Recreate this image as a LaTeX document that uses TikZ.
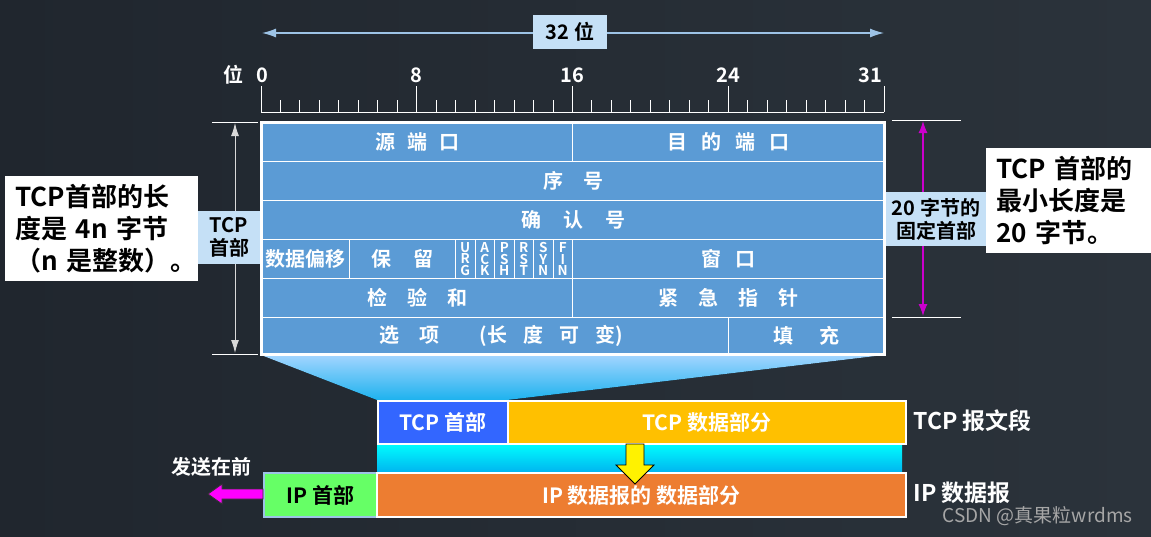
\documentclass[tikz,border=0pt]{standalone}
\usepackage{fontspec}
\setmainfont{Noto Sans CJK SC}[BoldFont={* Bold}]
\usetikzlibrary{arrows.meta}

\definecolor{bgleft}{HTML}{20262E}
\definecolor{bgright}{HTML}{2B333B}
\definecolor{cellblue}{HTML}{5B9BD5}
\definecolor{tagblue}{HTML}{C5E0F6}
\definecolor{rulerblue}{HTML}{9DC3E6}
\definecolor{dimgray}{HTML}{D9D9D9}
\definecolor{dimmag}{HTML}{CC00CC}
\definecolor{fantop}{HTML}{A3D5FF}
\definecolor{fanbot}{HTML}{1DB2EE}
\definecolor{bandtop}{HTML}{00FFFF}
\definecolor{bandbot}{HTML}{00B8F0}
\definecolor{hdrblue}{HTML}{3366FF}
\definecolor{datagold}{HTML}{FFC000}
\definecolor{iphdrgreen}{HTML}{66FF66}
\definecolor{ipdataorange}{HTML}{ED7D31}
\definecolor{sendmag}{HTML}{FF00FF}
\definecolor{markgray}{HTML}{A6A6A6}

\newcommand\sz[1]{\fontsize{#1}{#1}\selectfont\bfseries}
\newcommand\szl[2]{\fontsize{#1}{#2}\selectfont\bfseries}
\newcommand\cgap[1]{\hspace{#1em}}

\begin{document}
\begin{tikzpicture}[x=1pt,y=-1pt,
  cell/.style={draw=white,line width=1pt,fill=cellblue,text=white,inner sep=0pt,anchor=north west,font=\sz{20}},
  tag/.style={fill=tagblue,text=black,inner sep=0pt,align=center,font=\szl{20}{23}},
  note/.style={fill=white,text=black,inner ysep=0pt,align=left,anchor=north west,font=\szl{26}{32}},
  seg/.style={draw=white,line width=2pt,inner sep=0pt,anchor=north west,minimum height=43pt,font=\sz{21}},
  tick/.style={white,line width=1pt},
  num/.style={text=white,font=\sz{20}},
  side/.style={text=white,anchor=west,font=\sz{23}}]

% background
\fill[left color=bgleft,right color=bgright] (0,0) rectangle (1151,536);
\useasboundingbox (0,0) rectangle (1151,536);

% 32 bit width
\coordinate (wl) at (262,33);
\coordinate (wr) at (884,33);
\draw[rulerblue,line width=1.2pt,{Latex[length=14pt,width=9pt]}-{Latex[length=14pt,width=9pt]}] (wl) -- (wr);
\node[fill=tagblue,minimum width=74pt,minimum height=34pt,inner sep=0pt,font=\sz{20}] (w32) at (570,32) {32 位};

% ruler
\draw[tick] (261,112) -- (884,112);
\foreach \i in {0,...,32}
  \draw[tick] ({261+\i*19.47},100) -- ({261+\i*19.47},112);
\foreach \i in {0,8,16,24,32}
  \draw[tick] ({261+\i*19.47},86) -- ({261+\i*19.47},112);
\node[num] (bitlbl) at (233,75) {位};
\node[num] (b0) at (262,75) {0};
\node[num] (b8) at (416,75) {8};
\node[num] (b16) at (572,75) {16};
\node[num] (b24) at (728,75) {24};
\node[num,anchor=east] (b31) at (886,75) {31};

% fan from header to segment
\fill[top color=fantop,bottom color=fanbot] (261,355) -- (884,355) -- (507,400) -- (377,400) -- cycle;

% header table
\node[cell,minimum width=311pt,minimum height=39pt] (srcport) at (261,122) {源\cgap{.6}端\cgap{.6}口};
\node[cell,minimum width=312pt,minimum height=39pt] (dstport) at (572,122) {目\cgap{.7}的\cgap{.7}端\cgap{.7}口};
\node[cell,minimum width=623pt,minimum height=39pt] (seqno) at (261,161) {序\cgap{1}号};
\node[cell,minimum width=623pt,minimum height=39pt] (ackno) at (261,200) {确\cgap{1.1}认\cgap{1.1}号};
\node[cell,minimum width=88pt,minimum height=39pt] (offset) at (261,239) {数据偏移};
\node[cell,minimum width=106pt,minimum height=39pt] (reserved) at (349,239) {保\cgap{1.1}留};
\foreach \a/\b/\c [count=\i from 0] in {U/R/G,A/C/K,P/S/H,R/S/T,S/Y/N,F/I/N}
  \node[cell,minimum width=19.5pt,minimum height=39pt,align=center,font=\szl{13.5}{11.5}] (flag\i) at ({455+\i*19.5},239) {\a\\\b\\\c};
\node[cell,minimum width=312pt,minimum height=39pt] (window) at (572,239) {窗\cgap{.7}口};
\node[cell,minimum width=311pt,minimum height=39pt] (checksum) at (261,278) {检\cgap{1}验\cgap{1}和};
\node[cell,minimum width=312pt,minimum height=39pt] (urgptr) at (572,278) {紧\cgap{1}急\cgap{1}指\cgap{1}针};
\node[cell,minimum width=467pt,minimum height=37pt] (options) at (261,317) {\hspace{12pt}选\cgap{1}项\cgap{2}(长\cgap{.8}度\cgap{.8}可\cgap{.8}变)};
\node[cell,minimum width=156pt,minimum height=37pt] (padding) at (728,317) {填\cgap{1.3}充};
\draw[white,line width=3pt] (261,122) rectangle (884,354);

% header length
\draw[tick] (212,122) -- (258,122) (212,354) -- (258,354);
\coordinate (htop) at (235,123);
\coordinate (hbot) at (235,353);
\draw[dimgray,line width=1pt,{Latex[length=13pt,width=8pt]}-{Latex[length=13pt,width=8pt]}] (htop) -- (hbot);
\node[tag,minimum width=62pt,minimum height=53pt] (hdrtag) at (229,237.5) {TCP\\首部};
\node[note,inner xsep=10pt,text width=173pt,minimum height=105pt] (lennote) at (5,176) {\mbox{TCP首部的长}\\\mbox{度是 4n 字节}\\\mbox{（n 是整数）。}};

% fixed part
\draw[tick] (892,120) -- (961,120) (892,317) -- (961,317);
\coordinate (ftop) at (923,121);
\coordinate (fbot) at (923,316);
\draw[dimmag,line width=1.2pt,{Latex[length=12pt,width=9pt]}-{Latex[length=12pt,width=9pt]}] (ftop) -- (fbot);
\node[tag,minimum width=100pt,minimum height=54pt] (fixtag) at (936,219) {20 字节的\\固定首部};
\node[note,inner xsep=10pt,text width=145pt,minimum height=105pt] (minnote) at (986,148) {TCP 首部的\\最小长度是\\20 字节。};

% segment and datagram
\fill[top color=bandtop,bottom color=bandbot] (377,443) rectangle (902,471);
\node[seg,fill=hdrblue,text=white,minimum width=130pt] (tcphdr) at (377,400) {TCP 首部};
\node[seg,fill=datagold,text=white,minimum width=398pt] (tcpdata) at (507,400) {TCP 数据部分};
\node[seg,draw=rulerblue,fill=iphdrgreen,text=black,minimum width=113pt,minimum height=44pt] (iphdr) at (263,472) {IP 首部};
\node[seg,fill=ipdataorange,text=white,minimum width=529pt,minimum height=44pt] (ipdata) at (376,472) {IP 数据报的 数据部分};
\node[side] (seglbl) at (910,421) {TCP 报文段};
\node[side] (dgramlbl) at (910,493) {IP 数据报};

% arrows
\draw[fill=yellow,line width=0.8pt] (626,444) -- (644,444) -- (644,465) -- (654,465) -- (635,484) -- (616,465) -- (626,465) -- cycle;
\draw[fill=sendmag,draw=black!80,line width=0.8pt] (263,489) -- (222,489) -- (222,484) -- (208,494) -- (222,504) -- (222,499) -- (263,499) -- cycle;
\node[text=white,font=\sz{20}] (sendlbl) at (211,467) {发送在前};

\node[text=markgray,font=\fontsize{19}{19}\selectfont,anchor=east] (mark) at (1136,516) {CSDN @真果粒wrdms};
\end{tikzpicture}
\end{document}
